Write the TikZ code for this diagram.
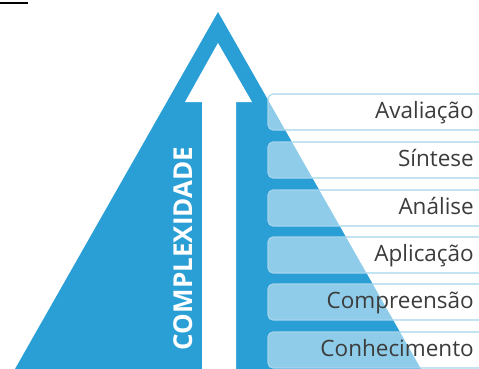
\documentclass[tikz,border=0pt]{standalone}
\usepackage{fontspec}
\setmainfont{Open Sans}
\definecolor{triblue}{HTML}{2A9FD6}
\definecolor{bandline}{HTML}{A6D5EC}
\definecolor{txtgray}{HTML}{3C3C3C}
\tikzset{
  band/.style={draw=bandline, line width=1.1pt, fill=white, fill opacity=0.47,
    rounded corners=5pt, minimum width=222pt, minimum height=36pt, inner sep=0pt},
  lvl/.style={anchor=base east, inner sep=0pt, text=txtgray, font=\fontsize{22.5}{26}\selectfont},
}
\begin{document}
\begin{tikzpicture}[x=1pt,y=-1pt]
\useasboundingbox (0,0) rectangle (479,369);
\clip (0,0) rectangle (479,369);
% top-left stroke
\coordinate (l1) at (0,3);
\coordinate (l2) at (28,3);
\draw[line width=1.6pt, black] (l1) -- (l2);
% pyramid
\coordinate (apex) at (218,12);
\coordinate (bl) at (15,369);
\coordinate (br) at (421,369);
\fill[triblue] (apex) -- (br) -- (bl) -- cycle;
% arrow
\fill[white] (218,43) -- (252,102) -- (236,102) -- (236,372) -- (202,372) -- (202,102) -- (185,102) -- cycle;
\node[rotate=90, inner sep=0pt, text=white, font=\bfseries\fontsize{26}{30}\selectfont] (cx) at (183,248.5) {COMPLEXIDADE};
% bands
\node[band] (b1) at (379,112) {};
\node[band] (b2) at (379,160) {};
\node[band] (b3) at (379,208) {};
\node[band] (b4) at (379,255) {};
\node[band] (b5) at (379,302) {};
\node[band] (b6) at (379,350) {};
\node[lvl] (t1) at (474,118.5) {Avaliação};
\node[lvl] (t2) at (474,166.5) {Síntese};
\node[lvl] (t3) at (474,214.5) {Análise};
\node[lvl] (t4) at (474,261.5) {Aplicação};
\node[lvl] (t5) at (474,308.5) {Compreensão};
\node[lvl] (t6) at (474,356.5) {Conhecimento};
\end{tikzpicture}
\end{document}
